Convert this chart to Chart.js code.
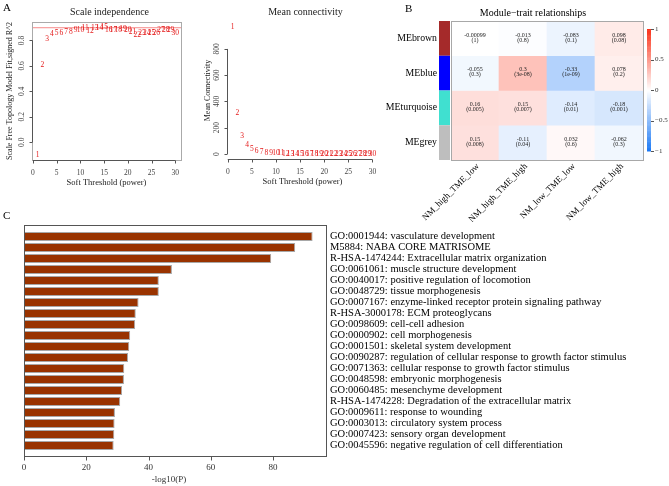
<!DOCTYPE html>
<html><head><meta charset="utf-8">
<script src="https://cdn.jsdelivr.net/npm/chart.js@4.4.1/dist/chart.umd.min.js"></script>
<style>
html,body{margin:0;padding:0;background:#fff;}
#wrap{position:relative;width:669px;height:486px;overflow:hidden;font-family:"Liberation Serif","Times New Roman",serif;}
canvas{position:absolute;}
.lbl{position:absolute;font-size:11px;line-height:11px;color:#000;}
</style></head><body>
<div id="wrap">
  <canvas id="cA1" width="195" height="195" style="left:0;top:0"></canvas>
  <canvas id="cA2" width="190" height="195" style="left:195px;top:0"></canvas>
  <canvas id="cB" width="284" height="222" style="left:385px;top:0"></canvas>
  <canvas id="cC" width="669" height="281" style="left:0;top:205px"></canvas>
  <div class="lbl" style="left:3px;top:2px">A</div>
  <div class="lbl" style="left:405px;top:3px">B</div>
  <div class="lbl" style="left:3px;top:210px">C</div>
</div>
<script>
// ---------- DATA ----------
const powers = [1,2,3,4,5,6,7,8,9,10,11,12,13,14,15,16,17,18,19,20,21,22,23,24,25,26,27,28,29,30];
const scaleFitR2 = [-0.10,0.61,0.81,0.85,0.857,0.855,0.865,0.863,0.881,0.881,0.894,0.873,0.894,0.90,0.905,
  0.878,0.878,0.884,0.889,0.884,0.87,0.845,0.857,0.859,0.859,0.857,0.884,0.884,0.878,0.857];
const meanConnectivity = [966,312,137,68,38,23,16,11,8,6,4.5,3.6,3,2.5,2.1,1.8,1.6,1.4,1.2,1.1,
  1.0,0.9,0.8,0.75,0.7,0.65,0.6,0.55,0.5,0.5];
const r2Cutoff = 0.9;
const xTicksA = [0,5,10,15,20,25,30];
const yTicksA1 = [0,0.2,0.4,0.6,0.8];
const yTickLabelsA1 = ['0.0','0.2','0.4','0.6','0.8'];
const yTicksA2 = [0,200,400,600,800];
const yTickLabelsA2 = ['0','200','400','600','800'];

const modules = ['MEbrown','MEblue','MEturquoise','MEgrey'];
const moduleColors = ['#a52a2a','#0000ff','#40e0d0','#bebebe'];
const traits = ['NM_high_TME_low','NM_high_TME_high','NM_low_TME_low','NM_low_TME_high'];
const corMEbrown = [-0.00099,-0.013,-0.083,0.098];
const corMEblue = [-0.055,0.3,-0.33,0.078];
const corMEturquoise = [0.16,0.15,-0.14,-0.18];
const corMEgrey = [0.15,-0.11,0.032,-0.062];
const pMEbrown = ['1','0.8','0.1','0.08'];
const pMEblue = ['0.3','3e-08','1e-09','0.2'];
const pMEturquoise = ['0.005','0.007','0.01','0.001'];
const pMEgrey = ['0.008','0.04','0.6','0.3'];
const legendTicks = [1,0.5,0,-0.5,-1];
const legendTickLabels = ['1','0.5','0','\u22120.5','\u22121'];

const terms = [
 'GO:0001944: vasculature development',
 'M5884: NABA CORE MATRISOME',
 'R-HSA-1474244: Extracellular matrix organization',
 'GO:0061061: muscle structure development',
 'GO:0040017: positive regulation of locomotion',
 'GO:0048729: tissue morphogenesis',
 'GO:0007167: enzyme-linked receptor protein signaling pathway',
 'R-HSA-3000178: ECM proteoglycans',
 'GO:0098609: cell-cell adhesion',
 'GO:0000902: cell morphogenesis',
 'GO:0001501: skeletal system development',
 'GO:0090287: regulation of cellular response to growth factor stimulus',
 'GO:0071363: cellular response to growth factor stimulus',
 'GO:0048598: embryonic morphogenesis',
 'GO:0060485: mesenchyme development',
 'R-HSA-1474228: Degradation of the extracellular matrix',
 'GO:0009611: response to wounding',
 'GO:0003013: circulatory system process',
 'GO:0007423: sensory organ development',
 'GO:0045596: negative regulation of cell differentiation'];
const negLog10P = [92.7,87.1,79.4,47.5,43.3,43.3,36.8,35.9,35.7,34.1,33.8,33.4,32.2,32.1,31.5,30.9,29.2,29.1,29.0,28.8];
const xTicksC = [0,20,40,60,80];

// ---------- HELPERS ----------
const SERIF = '"Liberation Serif","Times New Roman",serif';
Chart.defaults.font.family = SERIF;
const corMatrix = [corMEbrown, corMEblue, corMEturquoise, corMEgrey];
const pMatrix = [pMEbrown, pMEblue, pMEturquoise, pMEgrey];

function corColor(v){
  const t = Math.min(1, Math.abs(v));
  const end = v >= 0 ? [250,50,25] : [25,120,245];
  const c = end.map(e => Math.round(255 + (e - 255) * t));
  return 'rgb(' + c.join(',') + ')';
}

function makeRPanel(cfg){
  return {
    id: 'rPanel',
    afterDraw(chart){
      const {ctx, chartArea: ca, scales: {x, y}} = chart;
      ctx.save();
      ctx.lineWidth = 1;
      if (cfg.box) {
        ctx.strokeStyle = cfg.box;
        ctx.strokeRect(Math.round(ca.left)+0.5, Math.round(ca.top)+0.5, Math.round(ca.right-ca.left), Math.round(ca.bottom-ca.top));
      }
      ctx.strokeStyle = '#555';
      const xb = Math.round(ca.bottom) + 0.5;
      ctx.beginPath();
      ctx.moveTo(x.getPixelForValue(cfg.xTicks[0]), xb);
      ctx.lineTo(x.getPixelForValue(cfg.xTicks[cfg.xTicks.length-1]), xb);
      cfg.xTicks.forEach(v => { const px = Math.round(x.getPixelForValue(v))+0.5; ctx.moveTo(px, xb); ctx.lineTo(px, xb+3); });
      const yl = Math.round(ca.left) + 0.5;
      ctx.moveTo(yl, y.getPixelForValue(cfg.yTicks[0]));
      ctx.lineTo(yl, y.getPixelForValue(cfg.yTicks[cfg.yTicks.length-1]));
      cfg.yTicks.forEach(v => { const py = Math.round(y.getPixelForValue(v))+0.5; ctx.moveTo(yl, py); ctx.lineTo(yl-3, py); });
      ctx.stroke();
      ctx.fillStyle = '#444';
      ctx.font = '7.5px ' + SERIF;
      ctx.textAlign = 'center'; ctx.textBaseline = 'middle';
      cfg.xTicks.forEach(v => ctx.fillText(String(v), x.getPixelForValue(v), ca.bottom + 13));
      cfg.yTicks.forEach((v, i) => {
        ctx.save(); ctx.translate(ca.left - 10, y.getPixelForValue(v)); ctx.rotate(-Math.PI/2);
        ctx.fillText(cfg.yTickLabels[i], 0, 0); ctx.restore();
      });
      ctx.fillStyle = '#222';
      ctx.font = '8.5px ' + SERIF;
      ctx.fillText(cfg.xLabel, (ca.left+ca.right)/2, ca.bottom + 23);
      ctx.font = '8px ' + SERIF;
      ctx.save(); ctx.translate(ca.left - cfg.yLabelGap, (ca.top+ca.bottom)/2); ctx.rotate(-Math.PI/2);
      ctx.fillText(cfg.yLabel, 0, 0); ctx.restore();
      ctx.font = '10px ' + SERIF;
      ctx.fillText(cfg.title, (ca.left+ca.right)/2 + 3, 12);
      const meta = chart.getDatasetMeta(0);
      ctx.fillStyle = '#e41a1a';
      ctx.font = '7.5px ' + SERIF;
      meta.data.forEach((pt, i) => ctx.fillText(String(powers[i]), pt.x, pt.y));
      ctx.restore();
    }
  };
}

// ---------- PANEL A1 ----------
const xMinA = -0.2, xMaxA = 31.2;
new Chart(document.getElementById('cA1'), {
  type: 'scatter',
  data: { datasets: [
    { data: powers.map((p,i) => ({x:p, y:scaleFitR2[i]})), pointRadius: 0, pointHoverRadius: 0 },
    { data: [{x:xMinA, y:r2Cutoff},{x:xMaxA, y:r2Cutoff}], showLine: true, borderColor: 'rgba(240,60,60,0.6)', borderWidth: 1, pointRadius: 0 }
  ]},
  options: {
    responsive: false, animation: false, events: [],
    layout: { padding: { left: 32, top: 22, right: 14, bottom: 35 } },
    scales: {
      x: { type: 'linear', min: xMinA, max: xMaxA, display: false },
      y: { type: 'linear', min: -0.14, max: 0.945, display: false }
    },
    plugins: { legend: { display: false }, tooltip: { enabled: false } }
  },
  plugins: [makeRPanel({ box: '#aaa', xTicks: xTicksA, yTicks: yTicksA1, yTickLabels: yTickLabelsA1,
    xLabel: 'Soft Threshold (power)', yLabel: 'Scale Free Topology Model Fit,signed R^2', yLabelGap: 22,
    title: 'Scale independence' })]
});

// ---------- PANEL A2 ----------
new Chart(document.getElementById('cA2'), {
  type: 'scatter',
  data: { datasets: [
    { data: powers.map((p,i) => ({x:p, y:meanConnectivity[i]})), pointRadius: 0, pointHoverRadius: 0 }
  ]},
  options: {
    responsive: false, animation: false, events: [],
    layout: { padding: { left: 32, top: 22, right: 7, bottom: 36 } },
    scales: {
      x: { type: 'linear', min: -0.16, max: 31.16, display: false },
      y: { type: 'linear', min: -38, max: 1005, display: false }
    },
    plugins: { legend: { display: false }, tooltip: { enabled: false } }
  },
  plugins: [makeRPanel({ box: null, xTicks: xTicksA, yTicks: yTicksA2, yTickLabels: yTickLabelsA2,
    xLabel: 'Soft Threshold (power)', yLabel: 'Mean Connectivity', yLabelGap: 19,
    title: 'Mean connectivity' })]
});

// ---------- PANEL B ----------
const heatPlugin = {
  id: 'heat',
  afterDraw(chart){
    const {ctx, chartArea: ca, scales: {x, y}} = chart;
    const n = modules.length;
    ctx.save();
    ctx.strokeStyle = '#a8a8a8'; ctx.lineWidth = 1;
    ctx.strokeRect(Math.round(ca.left)+0.5, Math.round(ca.top)+0.5, Math.round(ca.right-ca.left), Math.round(ca.bottom-ca.top));
    modules.forEach((m, i) => {
      const top = y.getPixelForValue(n - i), bot = y.getPixelForValue(n - 1 - i);
      const cy = (top + bot) / 2;
      ctx.fillStyle = moduleColors[i];
      ctx.fillRect(ca.left - 12, top, 11, bot - top);
      ctx.fillStyle = '#000';
      ctx.font = '9.8px ' + SERIF;
      ctx.textAlign = 'right'; ctx.textBaseline = 'middle';
      ctx.fillText(m, ca.left - 14, cy);
      const meta = chart.getDatasetMeta(i);
      ctx.textAlign = 'center';
      ctx.font = '6px ' + SERIF;
      ctx.fillStyle = '#222';
      meta.data.forEach((el, j) => {
        ctx.fillText(String(corMatrix[i][j]), el.x, cy - 3.3);
        ctx.fillText('(' + pMatrix[i][j] + ')', el.x, cy + 1.6);
      });
    });
    ctx.fillStyle = '#000';
    ctx.font = '9px ' + SERIF;
    ctx.textAlign = 'right'; ctx.textBaseline = 'middle';
    traits.forEach((t, j) => {
      ctx.save(); ctx.translate(x.getPixelForValue(j) + 3, ca.bottom + 5); ctx.rotate(-Math.PI/4);
      ctx.fillText(t, 0, 0); ctx.restore();
    });
    ctx.textAlign = 'center';
    ctx.font = '10px ' + SERIF;
    ctx.fillText('Module\u2212trait relationships', (ca.left + ca.right)/2 - 14, 13);
    const lx = ca.right + 4, lw = 4, lt = ca.top + 8, lb = ca.bottom - 9;
    const py = v => lb - (v + 1) / 2 * (lb - lt);
    for (let k = 0; k < 100; k++) {
      const v0 = -1 + k * 0.02;
      ctx.fillStyle = corColor(v0 + 0.01);
      ctx.fillRect(lx, py(v0 + 0.02), lw, py(v0) - py(v0 + 0.02) + 0.5);
    }
    ctx.strokeStyle = '#555';
    ctx.beginPath();
    legendTicks.forEach(v => { const p = Math.round(py(v)) + 0.5; ctx.moveTo(lx + lw, p); ctx.lineTo(lx + lw + 3, p); });
    ctx.stroke();
    ctx.fillStyle = '#333';
    ctx.font = '7px ' + SERIF;
    ctx.textAlign = 'left';
    legendTicks.forEach((v, k) => ctx.fillText(legendTickLabels[k], lx + lw + 4, py(v)));
    ctx.restore();
  }
};

new Chart(document.getElementById('cB'), {
  type: 'bar',
  data: {
    labels: traits,
    datasets: modules.map((m, i) => ({
      label: m,
      data: traits.map(() => [modules.length - 1 - i, modules.length - i]),
      backgroundColor: corMatrix[i].map(corColor),
      borderWidth: 0, barPercentage: 1, categoryPercentage: 1, grouped: false
    }))
  },
  options: {
    responsive: false, animation: false, events: [],
    layout: { padding: { left: 66, top: 21, right: 26, bottom: 62 } },
    scales: {
      x: { type: 'category', display: false },
      y: { type: 'linear', min: 0, max: 4, display: false }
    },
    plugins: { legend: { display: false }, tooltip: { enabled: false } }
  },
  plugins: [heatPlugin]
});

// ---------- PANEL C ----------
const cAxisPlugin = {
  id: 'cAxis',
  afterDraw(chart){
    const {ctx, chartArea: ca, scales: {x}} = chart;
    ctx.save();
    const bt = Math.round(ca.top - 6) + 0.5, bb = Math.round(ca.bottom + 5) + 0.5;
    ctx.strokeStyle = '#555'; ctx.lineWidth = 1;
    ctx.strokeRect(Math.round(ca.left) + 0.5, bt, Math.round(ca.right - ca.left), bb - bt);
    ctx.beginPath();
    xTicksC.forEach(v => { const px = Math.round(x.getPixelForValue(v)) + 0.5; ctx.moveTo(px, bb); ctx.lineTo(px, bb + 4); });
    ctx.stroke();
    ctx.fillStyle = '#333';
    ctx.font = '9px ' + SERIF;
    ctx.textAlign = 'center'; ctx.textBaseline = 'middle';
    xTicksC.forEach(v => ctx.fillText(String(v), x.getPixelForValue(v), bb + 11));
    ctx.fillText('-log10(P)', (ca.left + ca.right)/2 - 6, bb + 23);
    ctx.restore();
  }
};

new Chart(document.getElementById('cC'), {
  type: 'bar',
  data: { labels: terms, datasets: [{
    data: negLog10P, backgroundColor: '#993300', borderColor: '#a8a8a8', borderWidth: 1,
    borderSkipped: false, barPercentage: 0.82, categoryPercentage: 1
  }]},
  options: {
    indexAxis: 'y', responsive: false, animation: false, events: [],
    layout: { padding: { left: 24, top: 26, right: 0, bottom: 35 } },
    scales: {
      x: { type: 'linear', min: 0, max: 97, display: false },
      y: { position: 'right', grid: { display: false, drawTicks: false }, border: { display: false },
           ticks: { padding: 4, color: '#000', autoSkip: false, font: { family: SERIF, size: 10.5 } },
           afterFit: s => { s.width = 343; } }
    },
    plugins: { legend: { display: false }, tooltip: { enabled: false } }
  },
  plugins: [cAxisPlugin]
});
</script>
</body></html>
